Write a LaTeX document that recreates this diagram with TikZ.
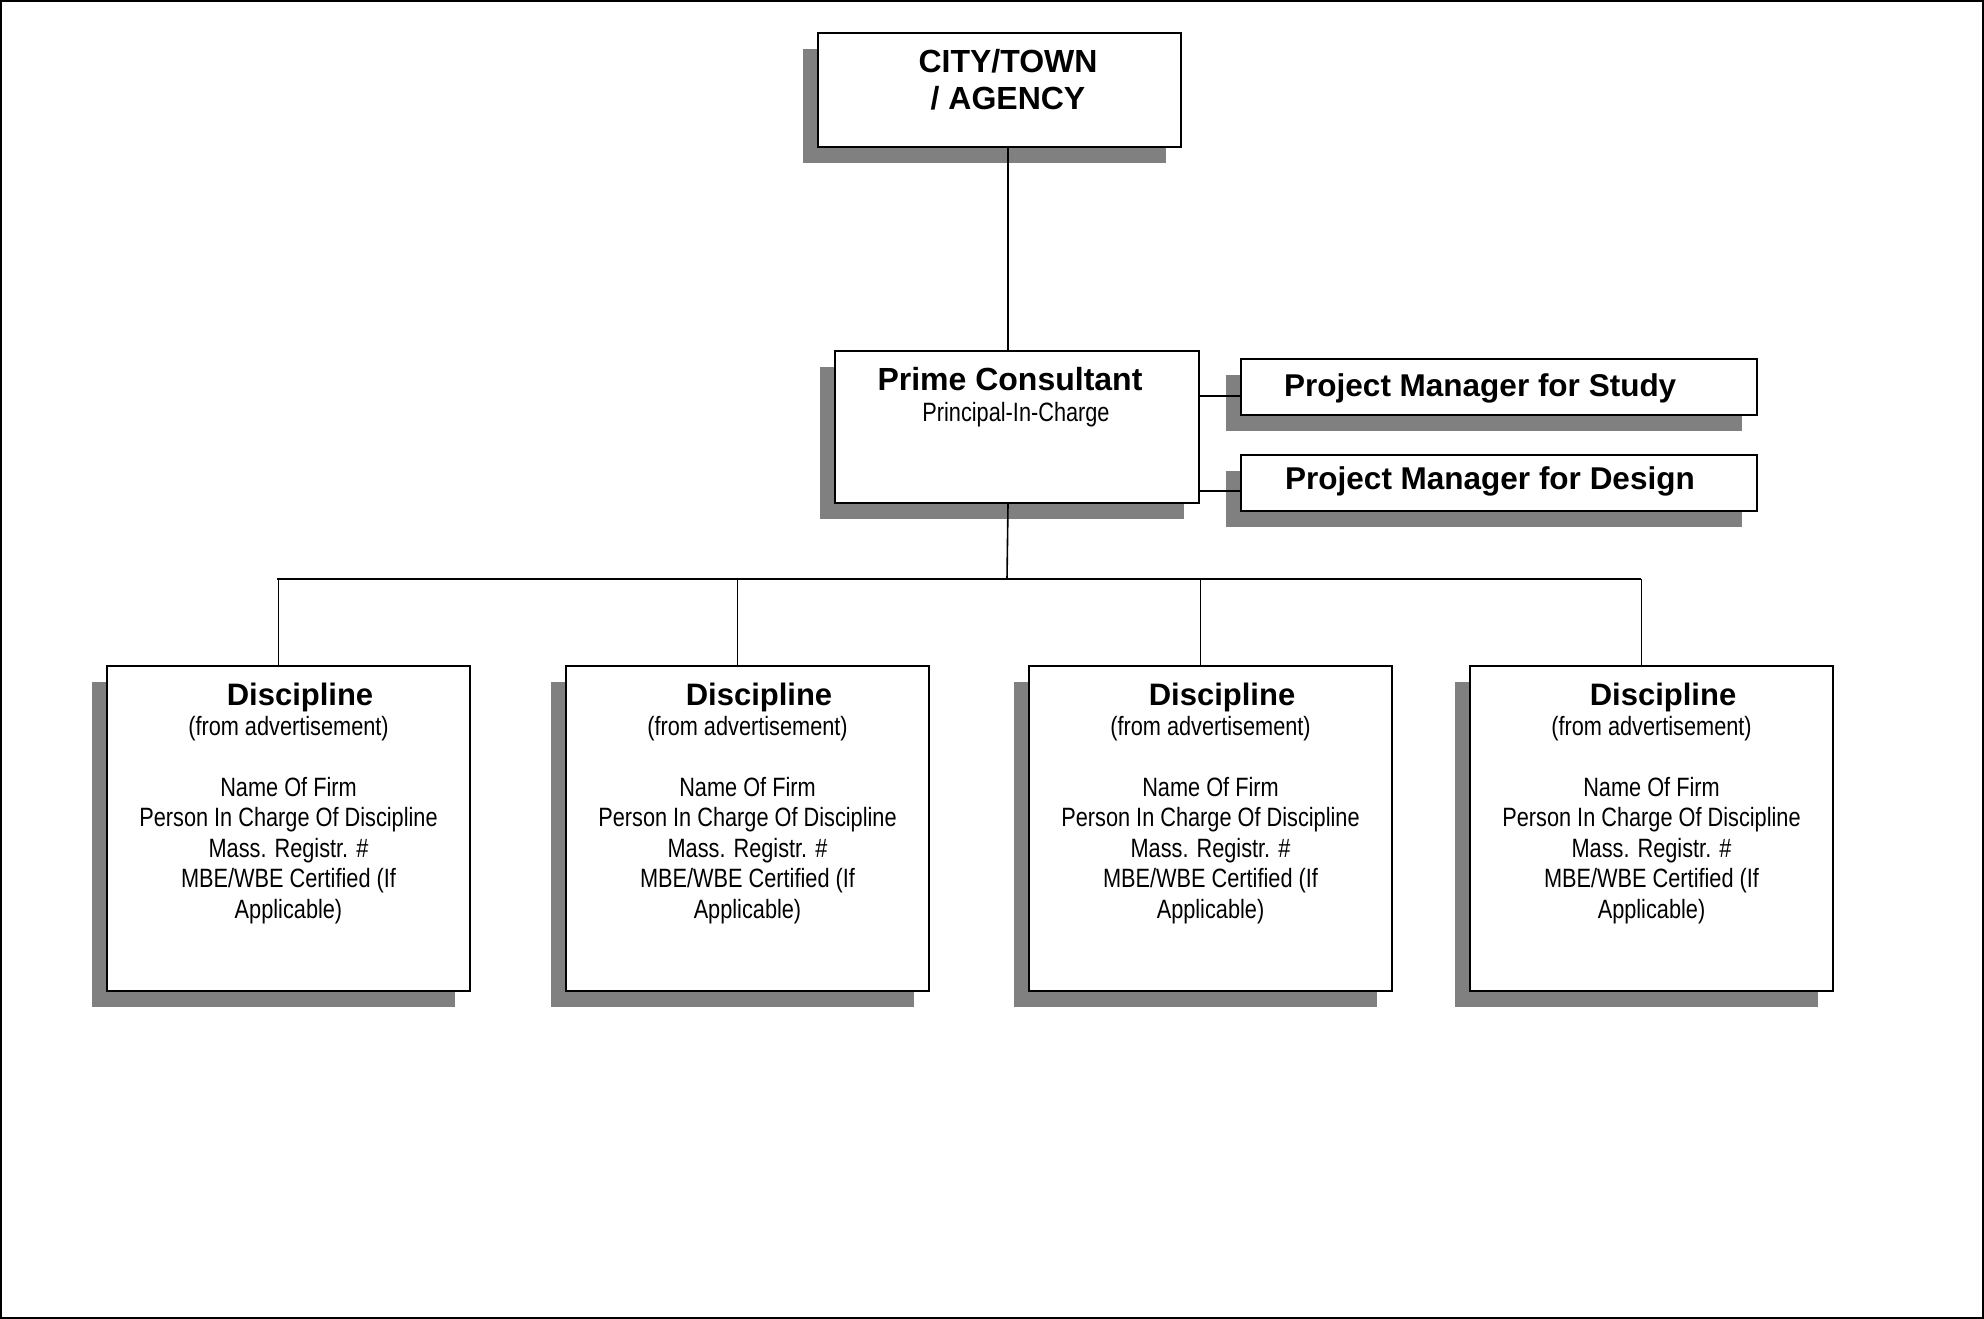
\documentclass[tikz,border=0pt]{standalone}
\usepackage{fontspec}
\setmainfont{Liberation Sans}
\newfontfamily\narrowfont[FakeStretch=0.82]{Liberation Sans}
\usetikzlibrary{shadows,calc}
\definecolor{shadowgray}{RGB}{128,128,128}
\tikzset{
  box/.style={draw, line width=2pt, fill=white, anchor=north west, inner sep=0pt,
    general shadow={fill=shadowgray, shadow xshift=-15pt, shadow yshift=-16pt}},
  conn/.style={line width=1.6pt},
  bus/.style={line width=2pt},
  titletxt/.style={font=\fontsize{32}{37}\selectfont\bfseries, align=center, inner sep=0pt},
  pmtxt/.style={font=\fontsize{31.5}{36}\selectfont\bfseries, inner sep=0pt, anchor=base west},
  disctitle/.style={font=\fontsize{31}{36}\selectfont\bfseries, inner sep=0pt, anchor=base},
  subtxt/.style={font=\narrowfont\fontsize{26.5}{30.5}\selectfont, align=center, inner sep=0pt, anchor=base},
}
\begin{document}
\begin{tikzpicture}[x=1pt,y=-1pt]
\useasboundingbox (0,0) rectangle (1984,1319);
\draw[line width=2pt] (1,1) rectangle (1983,1318);

% boxes
\node[box, minimum width=363pt, minimum height=114pt] (city) at (817,32) {};
\node[box, minimum width=364pt, minimum height=152pt] (prime) at (834,350) {};
\node[box, minimum width=516pt, minimum height=56pt] (pms) at (1240,358) {};
\node[box, minimum width=516pt, minimum height=56pt] (pmd) at (1240,454) {};
\foreach \i/\x in {1/106,2/565,3/1028,4/1469}{
  \node[box, minimum width=363pt, minimum height=325pt] (d\i) at (\x,665) {};
}

% connectors
\draw[conn] ($(city.south)+(8.5,0)$) -- ($(prime.north)+(-9,0)$);
\coordinate (busC) at (1007,579);
\coordinate (busL) at (277,579);
\coordinate (busR) at (1641,579);
\draw[conn] ($(prime.south)+(-9,0)$) -- (busC);
\draw[bus] (busL) -- (busR);
\draw[conn] (prime.east |- 0,396) -- (pms.west |- 0,396);
\draw[conn] (prime.east |- 0,491) -- (pmd.west |- 0,491);
\foreach \i in {1,2,3,4}{
  \coordinate (top\i) at ($(d\i.north)+(-10,0)$);
  \draw[conn] (top\i |- busL) -- (top\i);
}

% texts
\node[titletxt, anchor=base] (citytxt) at (1008,110) {CITY/TOWN\\/ AGENCY};
\node[disctitle, font=\fontsize{32}{37}\selectfont\bfseries] (primetxt) at (1010,390) {Prime Consultant};
\node[subtxt] (primesub) at (1016,421) {Principal-In-Charge};
\node[pmtxt] (pmstxt) at (1284,396) {Project Manager for Study};
\node[pmtxt] (pmdtxt) at (1285,489) {Project Manager for Design};
\foreach \i in {1,2,3,4}{
  \node[disctitle] (dt\i) at ($(d\i.north |- 0,705)+(11.5,0)$) {Discipline};
  \node[subtxt] (ds\i) at (d\i.north |- 0,918) {(from advertisement)\\[30.5pt]Name Of Firm\\Person In Charge Of Discipline\\Mass. Registr. \#\\MBE/WBE Certified (If\\Applicable)};
}
\end{tikzpicture}
\end{document}
